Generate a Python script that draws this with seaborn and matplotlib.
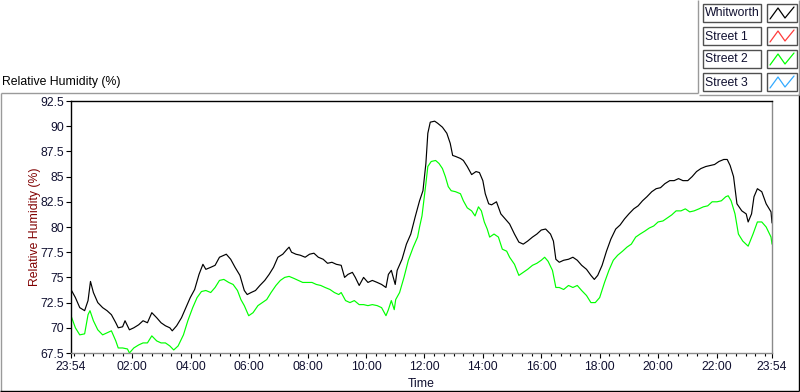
import matplotlib
matplotlib.use("Agg")
import matplotlib.pyplot as plt
from matplotlib.lines import Line2D
from matplotlib.patches import Rectangle
import seaborn as sns
import pandas as pd

# ---------------- data (minutes since 23:54, relative humidity %) ----------------
whitworth_min = [0, 9, 18, 28, 35, 40, 46, 55, 65, 74, 83, 92, 97, 106, 111, 120, 129, 139, 148, 157,
                 166, 176, 185, 194, 203, 208, 217, 227, 236, 245, 254, 263, 271, 277, 287, 296, 305, 319,
                 328, 337, 347, 356, 362, 370, 379, 388, 398, 407, 416, 425, 435, 444, 448, 453, 462, 471,
                 481, 490, 499, 508, 518, 527, 536, 545, 555, 562, 569, 578, 584, 592, 601, 610, 619, 629,
                 638, 647, 652, 658, 666, 670, 680, 689, 698, 707, 716, 723, 729, 733, 738, 747, 753, 763,
                 772, 779, 784, 790, 800, 806, 814, 823, 832, 839, 846, 851, 858, 864, 874, 883, 892, 901,
                 911, 920, 929, 938, 948, 957, 966, 975, 985, 991, 996, 1003, 1012, 1022, 1031, 1040, 1049,
                 1059, 1068, 1075, 1082, 1091, 1100, 1109, 1119, 1128, 1137, 1146, 1156, 1165, 1174, 1183,
                 1193, 1202, 1211, 1220, 1230, 1239, 1248, 1257, 1267, 1276, 1285, 1294, 1304, 1313, 1322,
                 1331, 1341, 1348, 1354, 1361, 1368, 1378, 1387, 1391, 1398, 1403, 1410, 1419, 1428, 1438, 1440]
whitworth_rh = [73.8, 73.0, 72.0, 71.7, 72.7, 74.6, 73.5, 72.5, 72.0, 71.7, 71.3, 70.5, 70.0, 70.1, 70.7,
                69.8, 70.0, 70.3, 70.7, 70.5, 71.5, 71.0, 70.5, 70.2, 70.0, 69.7, 70.2, 71.0, 72.0, 73.0,
                73.8, 75.3, 76.3, 75.8, 76.0, 76.2, 77.0, 77.3, 76.8, 76.0, 75.2, 73.7, 73.3, 73.5, 73.7,
                74.2, 74.7, 75.3, 76.0, 77.0, 77.3, 77.8, 78.0, 77.5, 77.3, 77.2, 77.0, 77.3, 77.4, 77.0,
                76.8, 76.4, 76.5, 76.3, 76.2, 75.0, 75.3, 75.5, 75.0, 74.2, 75.0, 74.5, 74.7, 74.5, 74.3,
                74.0, 75.3, 75.7, 74.3, 75.7, 76.8, 78.3, 79.3, 81.0, 82.6, 83.6, 86.3, 89.3, 90.4, 90.5,
                90.3, 89.9, 89.3, 88.3, 87.1, 87.0, 86.8, 86.6, 86.0, 85.2, 85.5, 85.4, 84.6, 83.3, 82.3,
                82.2, 82.5, 81.3, 80.8, 80.3, 79.3, 78.5, 78.3, 78.6, 79.0, 79.3, 79.7, 79.8, 79.3, 78.6,
                76.8, 76.5, 76.7, 76.8, 77.0, 76.7, 76.2, 75.8, 75.2, 74.8, 75.2, 76.2, 77.6, 78.8, 79.8,
                80.2, 80.8, 81.3, 81.8, 82.1, 82.6, 83.0, 83.5, 83.8, 83.9, 84.3, 84.6, 84.6, 84.8, 84.6,
                84.6, 85.0, 85.5, 85.8, 86.0, 86.1, 86.2, 86.5, 86.7, 86.7, 86.1, 85.0, 82.3, 81.6, 81.3,
                80.5, 81.3, 83.0, 83.8, 83.5, 82.3, 81.5, 80.4]

street2_min = [0, 9, 18, 28, 35, 39, 46, 55, 65, 74, 83, 92, 97, 106, 116, 120, 129, 139, 148, 157, 166,
               176, 185, 194, 203, 211, 220, 231, 240, 250, 259, 268, 277, 287, 296, 305, 314, 324, 333,
               342, 349, 356, 365, 374, 384, 393, 402, 411, 421, 430, 439, 448, 458, 467, 476, 485, 495,
               504, 513, 522, 532, 541, 550, 555, 564, 573, 582, 592, 601, 610, 619, 629, 638, 647, 652,
               658, 664, 667, 675, 684, 693, 703, 712, 716, 721, 729, 733, 740, 749, 756, 763, 769, 775,
               781, 790, 800, 806, 814, 823, 830, 837, 843, 849, 855, 860, 869, 878, 886, 895, 901, 911,
               920, 929, 938, 948, 957, 966, 973, 980, 989, 996, 1003, 1012, 1022, 1031, 1040, 1049, 1059,
               1068, 1077, 1086, 1096, 1105, 1114, 1123, 1133, 1142, 1151, 1160, 1169, 1179, 1188, 1197,
               1206, 1216, 1225, 1234, 1243, 1253, 1262, 1271, 1280, 1290, 1299, 1308, 1317, 1327, 1336,
               1345, 1350, 1356, 1364, 1371, 1380, 1391, 1401, 1410, 1419, 1428, 1438, 1440]
street2_rh = [71.2, 70.0, 69.3, 69.4, 71.3, 71.7, 70.7, 69.8, 69.3, 69.5, 69.7, 68.7, 68.0, 68.0, 67.9,
              67.5, 68.0, 68.3, 68.5, 68.5, 69.2, 68.7, 68.5, 68.5, 68.2, 67.8, 68.2, 69.3, 70.7, 72.0,
              73.0, 73.6, 73.7, 73.5, 74.0, 74.7, 74.8, 74.5, 74.3, 73.7, 72.8, 72.2, 71.2, 71.5, 72.2,
              72.5, 72.8, 73.5, 74.2, 74.7, 75.0, 75.1, 74.9, 74.7, 74.5, 74.5, 74.5, 74.3, 74.2, 74.0,
              73.8, 73.5, 73.3, 73.5, 72.7, 72.5, 72.7, 72.3, 72.3, 72.2, 72.3, 72.2, 72.0, 71.2, 71.8,
              72.7, 71.8, 72.8, 73.5, 75.0, 76.7, 78.0, 79.0, 80.0, 81.1, 84.3, 86.0, 86.5, 86.6, 86.3,
              85.8, 85.0, 84.0, 83.6, 83.5, 83.3, 82.6, 81.9, 81.6, 81.1, 82.0, 81.6, 80.5, 79.8, 79.0,
              79.3, 79.0, 77.8, 77.6, 77.0, 76.3, 75.2, 75.5, 75.8, 76.2, 76.4, 76.7, 77.0, 76.6, 75.7,
              74.0, 74.0, 73.8, 74.2, 74.0, 74.2, 73.7, 73.2, 72.5, 72.5, 73.0, 74.5, 75.7, 76.7, 77.2,
              77.6, 78.0, 78.3, 79.0, 79.3, 79.6, 79.9, 80.1, 80.5, 80.6, 80.9, 81.2, 81.6, 81.6, 81.8,
              81.5, 81.6, 81.8, 82.0, 82.1, 82.5, 82.5, 82.6, 83.0, 83.1, 82.6, 81.3, 79.3, 78.6, 78.1,
              79.3, 80.5, 80.5, 80.0, 79.0, 78.3]

legend_names = ["Whitworth", "Street 1", "Street 2", "Street 3"]
legend_colors = ["#000000", "#ff3b3b", "#00ff00", "#33aaff"]

xtick_minutes = [0, 126, 246, 366, 486, 606, 726, 846, 966, 1086, 1206, 1326, 1440]
xtick_labels = ["23:54", "02:00", "04:00", "06:00", "08:00", "10:00", "12:00", "14:00",
                "16:00", "18:00", "20:00", "22:00", "23:54"]
yticks = [67.5, 70, 72.5, 75, 77.5, 80, 82.5, 85, 87.5, 90, 92.5]
ytick_labels = ["67.5", "70", "72.5", "75", "77.5", "80", "82.5", "85", "87.5", "90", "92.5"]

# ---------------- build table ----------------
df = pd.concat([
    pd.DataFrame({"minute": whitworth_min, "rh": whitworth_rh, "series": "Whitworth"}),
    pd.DataFrame({"minute": street2_min, "rh": street2_rh, "series": "Street 2"}),
], ignore_index=True)

sns.set_theme(style="white")
FONT = ["Liberation Sans", "DejaVu Sans"]
plt.rcParams["font.family"] = FONT

W, H = 800, 392
fig = plt.figure(figsize=(W / 100, H / 100), dpi=100)
fig.patch.set_facecolor("white")

def fx(x):
    return x / W

def fy(y):
    return 1 - y / H

L, R, T, B = 71, 772, 101, 353
ax = fig.add_axes([fx(L), fy(B), (R - L) / W, (B - T) / H])
ax.set_facecolor("white")

sns.lineplot(data=df, x="minute", y="rh", hue="series", units="series", estimator=None,
             palette={"Whitworth": "#000000", "Street 2": "#00ff00"}, sort=False,
             linewidth=0.85, legend=False, ax=ax)

ax.set_xlim(0, 1440)
ax.set_ylim(67.5, 92.5)
ax.set_yticks(yticks)
ax.set_yticklabels(ytick_labels)
ax.set_xticks(xtick_minutes)
ax.set_xticklabels(xtick_labels)
ax.set_xticks(list(range(6, 1440, 20)), minor=True)

ax.tick_params(axis="both", which="major", direction="out", length=3.6, width=0.8,
               color="black", labelsize=8.7, labelcolor="#101030")
ax.tick_params(axis="x", which="major", pad=2.5)
ax.tick_params(axis="y", which="major", pad=1.2)
ax.tick_params(axis="x", which="minor", direction="out", length=2.2, width=0.8, color="black",
               bottom=True)
ax.tick_params(axis="y", which="minor", left=False)
ax.xaxis.set_ticks_position("bottom")
ax.yaxis.set_ticks_position("left")

for side, col in [("left", "black"), ("top", "black"), ("right", "#8a8a8a"), ("bottom", "#8a8a8a")]:
    ax.spines[side].set_visible(True)
    ax.spines[side].set_color(col)
    ax.spines[side].set_linewidth(1.0)

ax.set_xlabel("")
ax.set_ylabel("")
fig.text(fx(35), fy((T + B) / 2), "Relative Humidity (%)", rotation=90, ha="center", va="center",
         fontsize=8.8, color="#800000", family=FONT)
fig.text(fx((L + R) / 2), fy(384), "Time", ha="center", va="center", fontsize=8.8,
         color="#101030", family=FONT)
fig.text(fx(2), fy(82), "Relative Humidity (%)", ha="left", va="center", fontsize=8.8,
         color="black", family=FONT)

# ---------------- frame lines ----------------
def fline(xs, ys, color, lw=1.0):
    fig.add_artist(Line2D([fx(v) for v in xs], [fy(v) for v in ys], color=color, lw=lw,
                          transform=fig.transFigure, solid_capstyle="butt"))

fline([0.5, 698], [92.5, 92.5], "#9a9a9a")
fline([698, 698], [0, 92.5], "#9a9a9a")
fline([1, 1], [92.5, 391], "#9a9a9a")
fline([0, 799], [391, 391], "black")
fline([798.5, 798.5], [94, 391], "black")
fline([699, 799], [94.5, 94.5], "#9a9a9a")
fline([799, 799], [0, 94.5], "#9a9a9a")

# ---------------- legend panel ----------------
box_tops = [4, 27, 50, 73]
for name, col, top in zip(legend_names, legend_colors, box_tops):
    fig.add_artist(Rectangle((fx(703), fy(top + 18)), 58 / W, 18 / H, transform=fig.transFigure,
                             facecolor="white", edgecolor="#505050", lw=1.0))
    fig.text(fx(705), fy(top + 9.5), name, ha="left", va="center", fontsize=8.8,
             color="#101030", family=FONT)
    fig.add_artist(Rectangle((fx(767), fy(top + 18)), 30 / W, 18 / H, transform=fig.transFigure,
                             facecolor="white", edgecolor="#505050", lw=1.0))
    zx = [770, 778, 785, 794]
    zy = [top + 15, top + 4, top + 14, top + 3]
    fig.add_artist(Line2D([fx(v) for v in zx], [fy(v) for v in zy], color=col, lw=0.9,
                          transform=fig.transFigure))

fig.savefig("out.png", dpi=100, facecolor="white")
